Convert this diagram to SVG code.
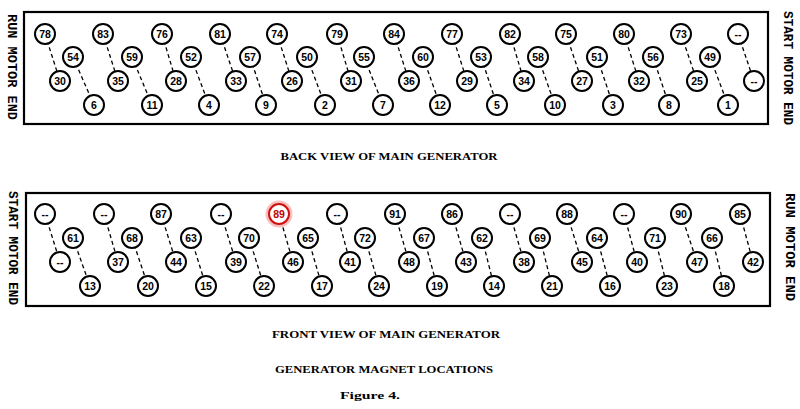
<svg xmlns="http://www.w3.org/2000/svg" width="800" height="409" viewBox="0 0 800 409">
<style>
.panel{fill:none;stroke:#000;stroke-width:2.2}
.c{fill:#fff;stroke:#000;stroke-width:2}
.n{font-family:"Liberation Sans",Arial,sans-serif;font-weight:bold;font-size:10.5px;text-anchor:middle;dominant-baseline:central;fill:#000}
.con line{stroke:#000;stroke-width:1.3;stroke-dasharray:4 3}
.side{font-family:"Liberation Mono","Courier New",monospace;font-weight:bold;font-size:13px;text-anchor:middle;dominant-baseline:central;fill:#000}
.cap{font-family:"Liberation Serif","Times New Roman",serif;font-weight:bold;font-size:10.5px;text-anchor:middle;fill:#000}
.hl .c{stroke:#d01010}
.hl .n{fill:#c00000}
</style>
<rect class="panel" x="24" y="12" width="744" height="112"/>
<rect class="panel" x="26" y="193" width="744" height="113"/>
<text class="side" transform="translate(11,67) rotate(90)" textLength="106" lengthAdjust="spacingAndGlyphs">RUN MOTOR END</text>
<text class="side" transform="translate(787,68) rotate(90)" textLength="114" lengthAdjust="spacingAndGlyphs">START MOTOR END</text>
<text class="side" transform="translate(12,248) rotate(90)" textLength="114" lengthAdjust="spacingAndGlyphs">START MOTOR END</text>
<text class="side" transform="translate(789,247) rotate(90)" textLength="108" lengthAdjust="spacingAndGlyphs">RUN MOTOR END</text>
<text class="cap" x="389" y="160" textLength="217" lengthAdjust="spacingAndGlyphs">BACK VIEW OF MAIN GENERATOR</text>
<text class="cap" x="386" y="338" textLength="228" lengthAdjust="spacingAndGlyphs">FRONT VIEW OF MAIN GENERATOR</text>
<text class="cap" x="384" y="373" textLength="218" lengthAdjust="spacingAndGlyphs">GENERATOR MAGNET LOCATIONS</text>
<text class="cap" x="370" y="399" textLength="60" lengthAdjust="spacingAndGlyphs">Figure 4.</text>
<g class="con" id="connectors">
<line x1="45" y1="34" x2="60" y2="81"/><line x1="103" y1="34" x2="118" y2="81"/><line x1="162" y1="34" x2="176" y2="81"/><line x1="220" y1="34" x2="236" y2="81"/><line x1="277" y1="34" x2="292" y2="81"/><line x1="337" y1="34" x2="351" y2="81"/><line x1="394" y1="34" x2="409" y2="81"/><line x1="452" y1="34" x2="467" y2="81"/><line x1="510" y1="34" x2="524" y2="81"/><line x1="566" y1="34" x2="582" y2="81"/><line x1="624" y1="34" x2="639" y2="81"/><line x1="681" y1="34" x2="697" y2="81"/><line x1="738" y1="34" x2="754" y2="81"/>
<line x1="73" y1="57" x2="94" y2="105"/><line x1="132" y1="57" x2="152" y2="105"/><line x1="191" y1="57" x2="209" y2="105"/><line x1="250" y1="57" x2="266" y2="105"/><line x1="307" y1="57" x2="325" y2="105"/><line x1="364" y1="57" x2="383" y2="105"/><line x1="423" y1="57" x2="440" y2="105"/><line x1="481" y1="57" x2="497" y2="105"/><line x1="538" y1="57" x2="555" y2="105"/><line x1="597" y1="57" x2="613" y2="105"/><line x1="653" y1="57" x2="669" y2="105"/><line x1="710" y1="57" x2="728" y2="105"/>
<line x1="45" y1="214" x2="60" y2="262"/><line x1="104" y1="214" x2="118" y2="262"/><line x1="161" y1="214" x2="176" y2="262"/><line x1="221" y1="214" x2="236" y2="262"/><line x1="279" y1="214" x2="293" y2="262"/><line x1="337" y1="214" x2="350" y2="262"/><line x1="395" y1="214" x2="409" y2="262"/><line x1="452" y1="214" x2="466" y2="262"/><line x1="510" y1="214" x2="524" y2="262"/><line x1="567" y1="214" x2="582" y2="262"/><line x1="624" y1="214" x2="637" y2="262"/><line x1="681" y1="214" x2="697" y2="262"/><line x1="740" y1="214" x2="753" y2="262"/>
<line x1="73" y1="238" x2="90" y2="286"/><line x1="132" y1="238" x2="148" y2="286"/><line x1="191" y1="238" x2="206" y2="286"/><line x1="249" y1="238" x2="264" y2="286"/><line x1="308" y1="238" x2="322" y2="286"/><line x1="365" y1="238" x2="379" y2="286"/><line x1="424" y1="238" x2="437" y2="286"/><line x1="482" y1="238" x2="494" y2="286"/><line x1="540" y1="238" x2="552" y2="286"/><line x1="597" y1="238" x2="610" y2="286"/><line x1="655" y1="238" x2="667" y2="286"/><line x1="712" y1="238" x2="724" y2="286"/>
</g>
<g id="back-view">
<g id="b78"><circle class="c" cx="45" cy="34" r="10"/><text class="n" x="45" y="34">78</text></g>
<g id="b83"><circle class="c" cx="103" cy="34" r="10"/><text class="n" x="103" y="34">83</text></g>
<g id="b76"><circle class="c" cx="162" cy="34" r="10"/><text class="n" x="162" y="34">76</text></g>
<g id="b81"><circle class="c" cx="220" cy="34" r="10"/><text class="n" x="220" y="34">81</text></g>
<g id="b74"><circle class="c" cx="277" cy="34" r="10"/><text class="n" x="277" y="34">74</text></g>
<g id="b79"><circle class="c" cx="337" cy="34" r="10"/><text class="n" x="337" y="34">79</text></g>
<g id="b84"><circle class="c" cx="394" cy="34" r="10"/><text class="n" x="394" y="34">84</text></g>
<g id="b77"><circle class="c" cx="452" cy="34" r="10"/><text class="n" x="452" y="34">77</text></g>
<g id="b82"><circle class="c" cx="510" cy="34" r="10"/><text class="n" x="510" y="34">82</text></g>
<g id="b75"><circle class="c" cx="566" cy="34" r="10"/><text class="n" x="566" y="34">75</text></g>
<g id="b80"><circle class="c" cx="624" cy="34" r="10"/><text class="n" x="624" y="34">80</text></g>
<g id="b73"><circle class="c" cx="681" cy="34" r="10"/><text class="n" x="681" y="34">73</text></g>
<g id="b-blank1"><circle class="c" cx="738" cy="34" r="10"/><text class="n" x="738" y="34">--</text></g>
<g id="b54"><circle class="c" cx="73" cy="57" r="10"/><text class="n" x="73" y="57">54</text></g>
<g id="b59"><circle class="c" cx="132" cy="57" r="10"/><text class="n" x="132" y="57">59</text></g>
<g id="b52"><circle class="c" cx="191" cy="57" r="10"/><text class="n" x="191" y="57">52</text></g>
<g id="b57"><circle class="c" cx="250" cy="57" r="10"/><text class="n" x="250" y="57">57</text></g>
<g id="b50"><circle class="c" cx="307" cy="57" r="10"/><text class="n" x="307" y="57">50</text></g>
<g id="b55"><circle class="c" cx="364" cy="57" r="10"/><text class="n" x="364" y="57">55</text></g>
<g id="b60"><circle class="c" cx="423" cy="57" r="10"/><text class="n" x="423" y="57">60</text></g>
<g id="b53"><circle class="c" cx="481" cy="57" r="10"/><text class="n" x="481" y="57">53</text></g>
<g id="b58"><circle class="c" cx="538" cy="57" r="10"/><text class="n" x="538" y="57">58</text></g>
<g id="b51"><circle class="c" cx="597" cy="57" r="10"/><text class="n" x="597" y="57">51</text></g>
<g id="b56"><circle class="c" cx="653" cy="57" r="10"/><text class="n" x="653" y="57">56</text></g>
<g id="b49"><circle class="c" cx="710" cy="57" r="10"/><text class="n" x="710" y="57">49</text></g>
<g id="b30"><circle class="c" cx="60" cy="81" r="10"/><text class="n" x="60" y="81">30</text></g>
<g id="b35"><circle class="c" cx="118" cy="81" r="10"/><text class="n" x="118" y="81">35</text></g>
<g id="b28"><circle class="c" cx="176" cy="81" r="10"/><text class="n" x="176" y="81">28</text></g>
<g id="b33"><circle class="c" cx="236" cy="81" r="10"/><text class="n" x="236" y="81">33</text></g>
<g id="b26"><circle class="c" cx="292" cy="81" r="10"/><text class="n" x="292" y="81">26</text></g>
<g id="b31"><circle class="c" cx="351" cy="81" r="10"/><text class="n" x="351" y="81">31</text></g>
<g id="b36"><circle class="c" cx="409" cy="81" r="10"/><text class="n" x="409" y="81">36</text></g>
<g id="b29"><circle class="c" cx="467" cy="81" r="10"/><text class="n" x="467" y="81">29</text></g>
<g id="b34"><circle class="c" cx="524" cy="81" r="10"/><text class="n" x="524" y="81">34</text></g>
<g id="b27"><circle class="c" cx="582" cy="81" r="10"/><text class="n" x="582" y="81">27</text></g>
<g id="b32"><circle class="c" cx="639" cy="81" r="10"/><text class="n" x="639" y="81">32</text></g>
<g id="b25"><circle class="c" cx="697" cy="81" r="10"/><text class="n" x="697" y="81">25</text></g>
<g id="b-blank2"><circle class="c" cx="754" cy="81" r="10"/><text class="n" x="754" y="81">--</text></g>
<g id="b6"><circle class="c" cx="94" cy="105" r="10"/><text class="n" x="94" y="105">6</text></g>
<g id="b11"><circle class="c" cx="152" cy="105" r="10"/><text class="n" x="152" y="105">11</text></g>
<g id="b4"><circle class="c" cx="209" cy="105" r="10"/><text class="n" x="209" y="105">4</text></g>
<g id="b9"><circle class="c" cx="266" cy="105" r="10"/><text class="n" x="266" y="105">9</text></g>
<g id="b2"><circle class="c" cx="325" cy="105" r="10"/><text class="n" x="325" y="105">2</text></g>
<g id="b7"><circle class="c" cx="383" cy="105" r="10"/><text class="n" x="383" y="105">7</text></g>
<g id="b12"><circle class="c" cx="440" cy="105" r="10"/><text class="n" x="440" y="105">12</text></g>
<g id="b5"><circle class="c" cx="497" cy="105" r="10"/><text class="n" x="497" y="105">5</text></g>
<g id="b10"><circle class="c" cx="555" cy="105" r="10"/><text class="n" x="555" y="105">10</text></g>
<g id="b3"><circle class="c" cx="613" cy="105" r="10"/><text class="n" x="613" y="105">3</text></g>
<g id="b8"><circle class="c" cx="669" cy="105" r="10"/><text class="n" x="669" y="105">8</text></g>
<g id="b1"><circle class="c" cx="728" cy="105" r="10"/><text class="n" x="728" y="105">1</text></g>
</g>
<g id="front-view">
<g id="f-blank1"><circle class="c" cx="45" cy="214" r="10"/><text class="n" x="45" y="214">--</text></g>
<g id="f-blank2"><circle class="c" cx="104" cy="214" r="10"/><text class="n" x="104" y="214">--</text></g>
<g id="f87"><circle class="c" cx="161" cy="214" r="10"/><text class="n" x="161" y="214">87</text></g>
<g id="f-blank3"><circle class="c" cx="221" cy="214" r="10"/><text class="n" x="221" y="214">--</text></g>
<g id="f89" class="hl"><circle cx="279" cy="214" r="13.5" fill="#f7b0b0" opacity="0.8"/><circle class="c" cx="279" cy="214" r="10" fill="#fcd6d6"/><text class="n" x="279" y="214">89</text></g>
<g id="f-blank4"><circle class="c" cx="337" cy="214" r="10"/><text class="n" x="337" y="214">--</text></g>
<g id="f91"><circle class="c" cx="395" cy="214" r="10"/><text class="n" x="395" y="214">91</text></g>
<g id="f86"><circle class="c" cx="452" cy="214" r="10"/><text class="n" x="452" y="214">86</text></g>
<g id="f-blank5"><circle class="c" cx="510" cy="214" r="10"/><text class="n" x="510" y="214">--</text></g>
<g id="f88"><circle class="c" cx="567" cy="214" r="10"/><text class="n" x="567" y="214">88</text></g>
<g id="f-blank6"><circle class="c" cx="624" cy="214" r="10"/><text class="n" x="624" y="214">--</text></g>
<g id="f90"><circle class="c" cx="681" cy="214" r="10"/><text class="n" x="681" y="214">90</text></g>
<g id="f85"><circle class="c" cx="740" cy="214" r="10"/><text class="n" x="740" y="214">85</text></g>
<g id="f61"><circle class="c" cx="73" cy="238" r="10"/><text class="n" x="73" y="238">61</text></g>
<g id="f68"><circle class="c" cx="132" cy="238" r="10"/><text class="n" x="132" y="238">68</text></g>
<g id="f63"><circle class="c" cx="191" cy="238" r="10"/><text class="n" x="191" y="238">63</text></g>
<g id="f70"><circle class="c" cx="249" cy="238" r="10"/><text class="n" x="249" y="238">70</text></g>
<g id="f65"><circle class="c" cx="308" cy="238" r="10"/><text class="n" x="308" y="238">65</text></g>
<g id="f72"><circle class="c" cx="365" cy="238" r="10"/><text class="n" x="365" y="238">72</text></g>
<g id="f67"><circle class="c" cx="424" cy="238" r="10"/><text class="n" x="424" y="238">67</text></g>
<g id="f62"><circle class="c" cx="482" cy="238" r="10"/><text class="n" x="482" y="238">62</text></g>
<g id="f69"><circle class="c" cx="540" cy="238" r="10"/><text class="n" x="540" y="238">69</text></g>
<g id="f64"><circle class="c" cx="597" cy="238" r="10"/><text class="n" x="597" y="238">64</text></g>
<g id="f71"><circle class="c" cx="655" cy="238" r="10"/><text class="n" x="655" y="238">71</text></g>
<g id="f66"><circle class="c" cx="712" cy="238" r="10"/><text class="n" x="712" y="238">66</text></g>
<g id="f-blank7"><circle class="c" cx="60" cy="262" r="10"/><text class="n" x="60" y="262">--</text></g>
<g id="f37"><circle class="c" cx="118" cy="262" r="10"/><text class="n" x="118" y="262">37</text></g>
<g id="f44"><circle class="c" cx="176" cy="262" r="10"/><text class="n" x="176" y="262">44</text></g>
<g id="f39"><circle class="c" cx="236" cy="262" r="10"/><text class="n" x="236" y="262">39</text></g>
<g id="f46"><circle class="c" cx="293" cy="262" r="10"/><text class="n" x="293" y="262">46</text></g>
<g id="f41"><circle class="c" cx="350" cy="262" r="10"/><text class="n" x="350" y="262">41</text></g>
<g id="f48"><circle class="c" cx="409" cy="262" r="10"/><text class="n" x="409" y="262">48</text></g>
<g id="f43"><circle class="c" cx="466" cy="262" r="10"/><text class="n" x="466" y="262">43</text></g>
<g id="f38"><circle class="c" cx="524" cy="262" r="10"/><text class="n" x="524" y="262">38</text></g>
<g id="f45"><circle class="c" cx="582" cy="262" r="10"/><text class="n" x="582" y="262">45</text></g>
<g id="f40"><circle class="c" cx="637" cy="262" r="10"/><text class="n" x="637" y="262">40</text></g>
<g id="f47"><circle class="c" cx="697" cy="262" r="10"/><text class="n" x="697" y="262">47</text></g>
<g id="f42"><circle class="c" cx="753" cy="262" r="10"/><text class="n" x="753" y="262">42</text></g>
<g id="f13"><circle class="c" cx="90" cy="286" r="10"/><text class="n" x="90" y="286">13</text></g>
<g id="f20"><circle class="c" cx="148" cy="286" r="10"/><text class="n" x="148" y="286">20</text></g>
<g id="f15"><circle class="c" cx="206" cy="286" r="10"/><text class="n" x="206" y="286">15</text></g>
<g id="f22"><circle class="c" cx="264" cy="286" r="10"/><text class="n" x="264" y="286">22</text></g>
<g id="f17"><circle class="c" cx="322" cy="286" r="10"/><text class="n" x="322" y="286">17</text></g>
<g id="f24"><circle class="c" cx="379" cy="286" r="10"/><text class="n" x="379" y="286">24</text></g>
<g id="f19"><circle class="c" cx="437" cy="286" r="10"/><text class="n" x="437" y="286">19</text></g>
<g id="f14"><circle class="c" cx="494" cy="286" r="10"/><text class="n" x="494" y="286">14</text></g>
<g id="f21"><circle class="c" cx="552" cy="286" r="10"/><text class="n" x="552" y="286">21</text></g>
<g id="f16"><circle class="c" cx="610" cy="286" r="10"/><text class="n" x="610" y="286">16</text></g>
<g id="f23"><circle class="c" cx="667" cy="286" r="10"/><text class="n" x="667" y="286">23</text></g>
<g id="f18"><circle class="c" cx="724" cy="286" r="10"/><text class="n" x="724" y="286">18</text></g>
</g>
</svg>
